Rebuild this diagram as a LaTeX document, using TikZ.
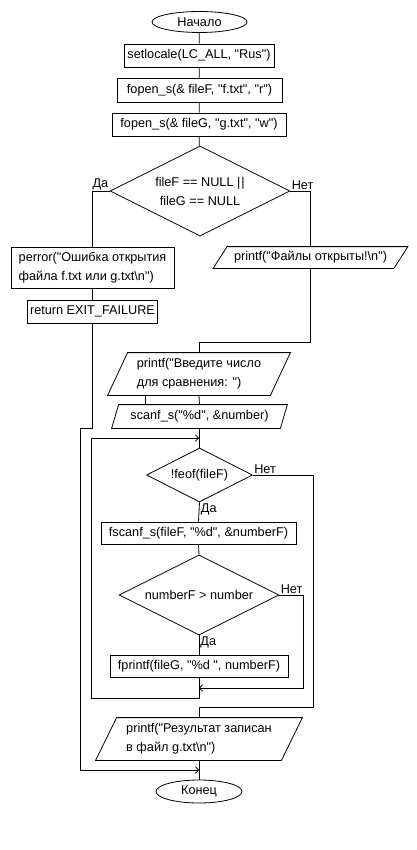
\documentclass[tikz,border=0pt]{standalone}
\usepackage{fontspec}
\setmainfont{Liberation Sans}[Ligatures=TeXOff]
\usetikzlibrary{shapes.geometric,arrows.meta,calc}
\newcommand\parashape[2]{\draw ($(#1.north west)+(#2,0)$) -- (#1.north east) -- ($(#1.south east)-(#2,0)$) -- (#1.south west) -- cycle;}
\tikzset{
  txt/.style={font=\fontsize{12.7}{19}\selectfont},
  base/.style={txt, inner sep=0pt},
  term/.style={base, draw, ellipse},
  proc/.style={base, draw, rectangle, align=left},
  io/.style={base, rectangle, align=left},
  decis/.style={base, draw, diamond, aspect=2, align=center},
  lab/.style={txt, inner sep=1pt},
  arr/.style={-{Straight Barb[length=3pt,width=6.5pt]}}
}
\begin{document}
\begin{tikzpicture}[x=1pt,y=-1pt,line width=0.8pt]
\fill[white] (0,0) rectangle (416,850);
\useasboundingbox (0,0) rectangle (416,850);

\node[term, minimum width=95pt, minimum height=21pt] (start) at (199.5,22) {Начало};
\node[proc, minimum width=150pt, minimum height=23pt] (n1) at (199,55.5) {setlocale(LC\_ALL, "Rus")};
\node[proc, minimum width=165pt, minimum height=24pt] (n2) at (199.5,90) {fopen\_s(\& fileF, "f.txt", "r")};
\node[proc, minimum width=174pt, minimum height=23pt] (n3) at (199,124.5) {fopen\_s(\& fileG, "g.txt", "w")};
\node[decis, minimum width=180pt, minimum height=90pt] (d1) at (200,191) {fileF == NULL |\kern1pt|\\fileG == NULL};
\node[proc, minimum width=163pt, minimum height=41pt] (perr) at (92.5,267.5) {perror("Ошибка открытия\\файла f.txt или g.txt\textbackslash n")};
\node[proc, minimum width=130pt, minimum height=23pt] (ret) at (92.5,311.5) {return EXIT\_FAILURE};
\node[io, minimum width=194pt, minimum height=21pt] (p1) at (310.5,257.5) {printf("Файлы открыты!\textbackslash n")};
\parashape{p1}{14}
\node[io, minimum width=182pt, minimum height=42pt] (p2) at (199,374) {printf("Введите число\\для сравнения: ")};
\parashape{p2}{20}
\node[io, minimum width=175pt, minimum height=23pt] (p3) at (199.5,416.5) {scanf\_s("\%d", \&number)};
\parashape{p3}{7}
\node[decis, minimum width=106pt, minimum height=54pt] (d2) at (199.5,475) {!feof(fileF)};
\node[proc, minimum width=195pt, minimum height=22pt] (n4) at (198.5,533) {fscanf\_s(fileF, "\%d", \&numberF)};
\node[decis, minimum width=160pt, minimum height=80pt] (d3) at (199,595) {numberF > number};
\node[proc, minimum width=178pt, minimum height=22pt] (n5) at (199,666) {fprintf(fileG, "\%d ", numberF)};
\node[io, minimum width=206pt, minimum height=42pt] (p4) at (199,739) {printf("Результат записан\\в файл g.txt\textbackslash n")};
\parashape{p4}{21}
\node[term, minimum width=86pt, minimum height=23pt] (end) at (199,791.5) {Конец};

\coordinate (j1) at (199,438);
\coordinate (j2) at (199,688);
\coordinate (j3) at (199,770);

% labels
\node[lab, anchor=south east] (l1) at (d1.west) {Да};
\node[lab, anchor=south west] (l2) at (d1.east) {Нет};
\node[lab, anchor=south west] (l3) at (d2.east) {Нет};
\node[lab, anchor=north west] (l4) at (d2.south) {Да};
\node[lab, anchor=south west] (l5) at (d3.east) {Нет};
\node[lab, anchor=north west] (l6) at (d3.south) {Да};

% connectors
\draw (start) -- (n1);
\draw (n1) -- (n2);
\draw (n2) -- (n3);
\draw (n3) -- (d1);
\draw (d1.west) -| (perr.north);
\draw (d1.east) -| (p1.north);
\draw (perr) -- (ret);
\draw[arr] (ret.south) -- ++(0,105) -- ++(-12,0) |- (j3);
\draw (p1.south) |- ([yshift=10pt]p2.north) -- (p2.north);
\draw (p2.south) -- (p3.north);
\draw ($(p2.south)+(-54,0)$) -- ($(p3.north)+(-54.5,0)$);
\draw (p3.south) -- (d2.north);
\draw (d2.south) -- (n4.north);
\draw (n4.south) -- (d3.north);
\draw (d3.south) -- (n5.north);
\draw[arr] (d3.east) -- ++(24,0) |- (j2);
\draw[arr] (n5.south) -- ++(0,21) -- ++(-107.7,0) |- (j1);
\draw (d2.east) -- ++(60,0) |- ([yshift=10pt]p4.north) -- (p4.north);
\draw (p4.south) -- (end.north);
\end{tikzpicture}
\end{document}
